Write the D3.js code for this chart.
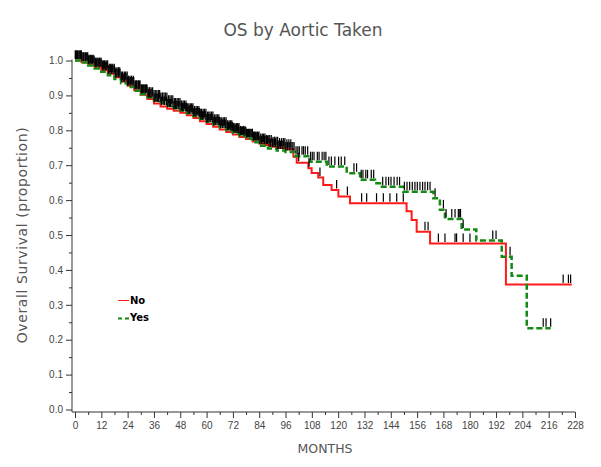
<!DOCTYPE html>
<html>
<head>
<meta charset="utf-8">
<script src="https://cdn.jsdelivr.net/npm/d3@7"></script>
<style>
  body { margin: 0; background: #fff; }
  svg { display: block; font-family: "DejaVu Sans", sans-serif; }
  .tick text { fill: #444; font-size: 10px; }
  .title { fill: #555; font-size: 17px; }
  .axis-label { fill: #555; }
  .legend-text { fill: #000; font-size: 10px; font-weight: bold; }
</style>
</head>
<body>
<svg width="601" height="467"></svg>
<script>
// Kaplan-Meier steps: [month, survival]
const noSteps = [
  [0, 1.0], [3, 0.995], [6, 0.988], [9, 0.98], [12, 0.972], [15, 0.962], [18, 0.952],
  [21, 0.94], [24, 0.928], [27, 0.915], [30, 0.902], [33, 0.89], [36, 0.877], [39, 0.868],
  [42, 0.862], [45, 0.856], [48, 0.85], [51, 0.843], [54, 0.835], [57, 0.826], [60, 0.818],
  [63, 0.81], [66, 0.802], [69, 0.795], [72, 0.788], [75, 0.781], [78, 0.775], [81, 0.768],
  [84, 0.762], [87, 0.758], [90, 0.753], [93, 0.749], [96, 0.746], [99.6, 0.724],
  [101.1, 0.707], [106.4, 0.691], [107.9, 0.678], [110.9, 0.665], [113.2, 0.643],
  [117, 0.629], [120.1, 0.61], [125.4, 0.591], [151.2, 0.568], [153.5, 0.543],
  [155.8, 0.509], [161.9, 0.476], [196.5, 0.358]
];
const noEnd = 226.5;

const yesSteps = [
  [0, 1.0], [3, 0.994], [6, 0.986], [9, 0.977], [12, 0.968], [15, 0.958], [18, 0.947],
  [21, 0.935], [24, 0.924], [27, 0.913], [30, 0.903], [33, 0.895], [36, 0.887], [39, 0.88],
  [42, 0.872], [45, 0.864], [48, 0.857], [51, 0.849], [54, 0.841], [57, 0.833], [60, 0.825],
  [63, 0.817], [66, 0.809], [69, 0.8], [72, 0.792], [75, 0.784], [78, 0.776], [81, 0.766],
  [84, 0.756], [88, 0.748], [92, 0.742], [96, 0.738], [100.3, 0.726], [107.2, 0.71],
  [114.8, 0.696], [123.9, 0.677], [130, 0.658], [136.8, 0.648], [139.1, 0.638],
  [149.7, 0.624], [163.4, 0.605], [166.4, 0.572], [168.7, 0.546], [176.3, 0.516],
  [183, 0.484], [194.6, 0.438], [199.1, 0.383], [206, 0.233]
];
const yesEnd = 216.9;

// censored times (months)
const noCensor = [
  0.3, 0.9, 1.4, 2.2, 2.7, 3.1, 3.8, 4.6, 5.1, 5.8, 6.4, 7.0, 7.7, 8.3, 9.1, 9.6, 10.4,
  11.1, 11.8, 12.4, 12.9, 13.5, 14.2, 14.9, 15.6, 16.1, 16.5, 17.2, 17.9, 18.6, 19.2, 19.8,
  20.4, 21.1, 21.7, 22.5, 23.1, 23.8, 24.4, 25.1, 25.8, 26.6, 27.4, 28.1, 28.9, 29.6, 30.3,
  30.9, 31.5, 32.2, 32.8, 33.4, 34.0, 34.6, 35.2, 36.1, 36.9, 37.5, 38.1, 38.8, 39.4, 40.2,
  40.9, 41.7, 42.3, 43.0, 43.6, 44.3, 45.1, 45.8, 46.4, 47.1, 47.8, 48.4, 49.0, 49.6, 50.3,
  50.9, 51.6, 52.3, 52.9, 53.5, 54.1, 54.8, 55.5, 56.2, 56.8, 57.4, 58.1, 58.7, 59.4, 60.1,
  60.6, 61.2, 61.9, 62.6, 63.3, 64.0, 64.7, 65.3, 65.9, 66.5, 67.2, 67.9, 68.7, 69.4, 70.0,
  70.6, 71.2, 71.8, 72.6, 73.3, 73.9, 74.5, 75.2, 75.9, 76.5, 77.2, 77.9, 78.6, 79.2, 79.8,
  80.6, 81.3, 81.9, 82.5, 83.2, 83.9, 84.7, 85.4, 86.0, 86.6, 87.3, 88.1, 88.8, 89.5, 90.3,
  91.0, 91.7, 92.4, 93.3, 94.2, 95.0, 95.7, 96.6, 97.5, 98.4,
  102, 106.7, 111.7, 119.3, 124.2, 130.7, 133, 137.5, 140.6, 143.6, 146.7, 149.7, 159.6,
  161, 165.7, 168.7, 173.3, 174, 177, 180.1, 222.6, 225, 226
];
const yesCensor = [
  0.1, 0.6, 1.1, 1.8, 2.4, 2.9, 3.6, 4.1, 4.8, 5.5, 6.1, 6.8, 7.4, 8.0, 8.7, 9.3, 9.9,
  10.6, 11.3, 11.9, 12.6, 13.2, 13.9, 14.5, 15.2, 15.9, 16.6, 17.3, 17.9, 18.5, 19.1, 19.8,
  20.5, 21.3, 22.0, 22.6, 23.3, 24.0, 24.7, 25.4, 26.1, 26.8, 27.5, 28.2, 28.8, 29.5, 30.2,
  30.8, 31.4, 32.0, 32.7, 33.3, 34.0, 34.7, 35.4, 36.0, 36.6, 37.3, 38.0, 38.6, 39.2, 39.9,
  40.6, 41.2, 41.9, 42.6, 43.3, 43.9, 44.6, 45.3, 45.9, 46.6, 47.3, 47.9, 48.6, 49.3, 49.9,
  50.6, 51.2, 51.9, 52.6, 53.2, 53.8, 54.5, 55.2, 55.8, 56.5, 57.1, 57.7, 58.4, 59.0, 59.7,
  60.4, 61.0, 61.6, 62.3, 62.9, 63.6, 64.3, 64.9, 65.6, 66.2, 66.9, 67.6, 68.2, 68.9, 69.6,
  70.3, 70.9, 71.5, 72.2, 72.9, 73.6, 74.2, 74.8, 75.5, 76.2, 76.8, 77.5, 78.2, 78.9, 79.5,
  80.2, 80.9, 81.5, 82.2, 82.9, 83.6, 84.3, 85.0, 85.7, 86.4, 87.1, 87.8, 88.5, 89.2, 90.0,
  90.7, 91.4, 92.2, 92.9, 93.7, 94.5, 95.3, 96.1, 96.9, 97.7, 98.5, 99.3, 99.9,
  100.8, 101.6, 102.3, 103.5, 104.2, 105, 106.1, 107.4, 108.2, 109, 110.5, 111.3, 112.7,
  113.6, 114.4, 115.8, 116.9, 118.5, 120.2, 121.4, 123, 127.2, 128.4, 130.5, 131.3, 132.6,
  133.4, 135.1, 136.2, 140.3, 141.8, 143, 144.1, 145.5, 146.9, 148, 150.2, 151.4, 152.6,
  153.8, 155, 156.1, 157.3, 158.5, 159.6, 160.8, 161.9, 164.2, 168, 169.2, 171.8, 173.3,
  174.8, 175.2, 175.8, 177, 190.5, 192, 198.4, 213.5, 214.8, 216.9
];

const xTicks = d3.range(0, 229, 12);
const yTicks = [0, 0.1, 0.2, 0.3, 0.4, 0.5, 0.6, 0.7, 0.8, 0.9, 1.0];

const svg = d3.select("svg");

const x = d3.scaleLinear().domain([0, 228]).range([75, 575]);
const y = d3.scaleLinear().domain([0, 1]).range([409.5, 60.5]);
const axisX = 72, axisY = 412;

// title
svg.append("text")
  .attr("class", "title")
  .attr("x", 303).attr("y", 36)
  .attr("text-anchor", "middle")
  .text("OS by Aortic Taken");

// y axis: major + minor ticks
const yAxis = svg.append("g").attr("transform", `translate(${axisX},0)`);
yAxis.call(d3.axisLeft(y).tickValues(yTicks).tickSize(6).tickPadding(3).tickFormat(d3.format(".1f")));
yAxis.append("g").call(d3.axisLeft(y).tickValues(yTicks.slice(0, -1).map(d => d + 0.05)).tickSize(3).tickFormat(""));
yAxis.selectAll(".domain").remove();
yAxis.selectAll("line").attr("stroke", "#333");

// x axis
const xAxis = svg.append("g").attr("transform", `translate(0,${axisY})`);
xAxis.call(d3.axisBottom(x).tickValues(xTicks).tickSize(6).tickPadding(4));
xAxis.append("g").call(d3.axisBottom(x).tickValues(xTicks.slice(0, -1).map(d => d + 6)).tickSize(3).tickFormat(""));
xAxis.selectAll(".domain").remove();
xAxis.selectAll("line").attr("stroke", "#333");

// axis lines
svg.append("path")
  .attr("d", `M${axisX},${y(1) - 1}V${axisY}H${x(228)}`)
  .attr("fill", "none").attr("stroke", "#333");

// axis labels
svg.append("text")
  .attr("class", "axis-label")
  .attr("transform", `translate(27,${(y(0) + y(1)) / 2}) rotate(-90)`)
  .attr("text-anchor", "middle")
  .style("font-size", "14px")
  .style("letter-spacing", "0.6px")
  .text("Overall Survival (proportion)");

svg.append("text")
  .attr("class", "axis-label")
  .attr("x", (x(0) + x(228)) / 2).attr("y", 453)
  .attr("text-anchor", "middle")
  .style("font-size", "12.5px")
  .text("MONTHS");

// survival curves
const line = d3.line()
  .x(d => x(d[0]))
  .y(d => y(d[1]))
  .curve(d3.curveStepAfter);

const withEnd = (steps, end) => steps.concat([[end, steps[steps.length - 1][1]]]);

svg.append("path")
  .datum(withEnd(noSteps, noEnd))
  .attr("d", line)
  .attr("fill", "none")
  .attr("stroke", "#ff1a1a")
  .attr("stroke-width", 2);

svg.append("path")
  .datum(withEnd(yesSteps, yesEnd))
  .attr("d", line)
  .attr("fill", "none")
  .attr("stroke", "#138a13")
  .attr("stroke-width", 2.5)
  .attr("stroke-dasharray", "6,3");

// censor marks
const bis = d3.bisector(d => d[0]).right;
const survAt = (steps, t) => steps[Math.max(0, bis(steps, t) - 1)][1];

const censorG = svg.append("g").attr("stroke", "#000").attr("stroke-width", 1.2);
[[noSteps, noCensor], [yesSteps, yesCensor]].forEach(([steps, times]) => {
  censorG.selectAll(null)
    .data(times)
    .enter().append("line")
    .attr("x1", d => x(d)).attr("x2", d => x(d))
    .attr("y1", d => y(survAt(steps, d)) - 10)
    .attr("y2", d => y(survAt(steps, d)) - 1.5);
});

// legend
const legend = svg.append("g").attr("transform", "translate(118,0)");
legend.append("line")
  .attr("x1", 0).attr("x2", 11).attr("y1", 300.5).attr("y2", 300.5)
  .attr("stroke", "#ff1a1a").attr("stroke-width", 1);
legend.append("text").attr("class", "legend-text")
  .attr("x", 12).attr("y", 304).text("No");
legend.append("line")
  .attr("x1", 0).attr("x2", 11).attr("y1", 318.5).attr("y2", 318.5)
  .attr("stroke", "#138a13").attr("stroke-width", 2)
  .attr("stroke-dasharray", "4,3");
legend.append("text").attr("class", "legend-text")
  .attr("x", 12).attr("y", 321).text("Yes");
</script>
</body>
</html>
